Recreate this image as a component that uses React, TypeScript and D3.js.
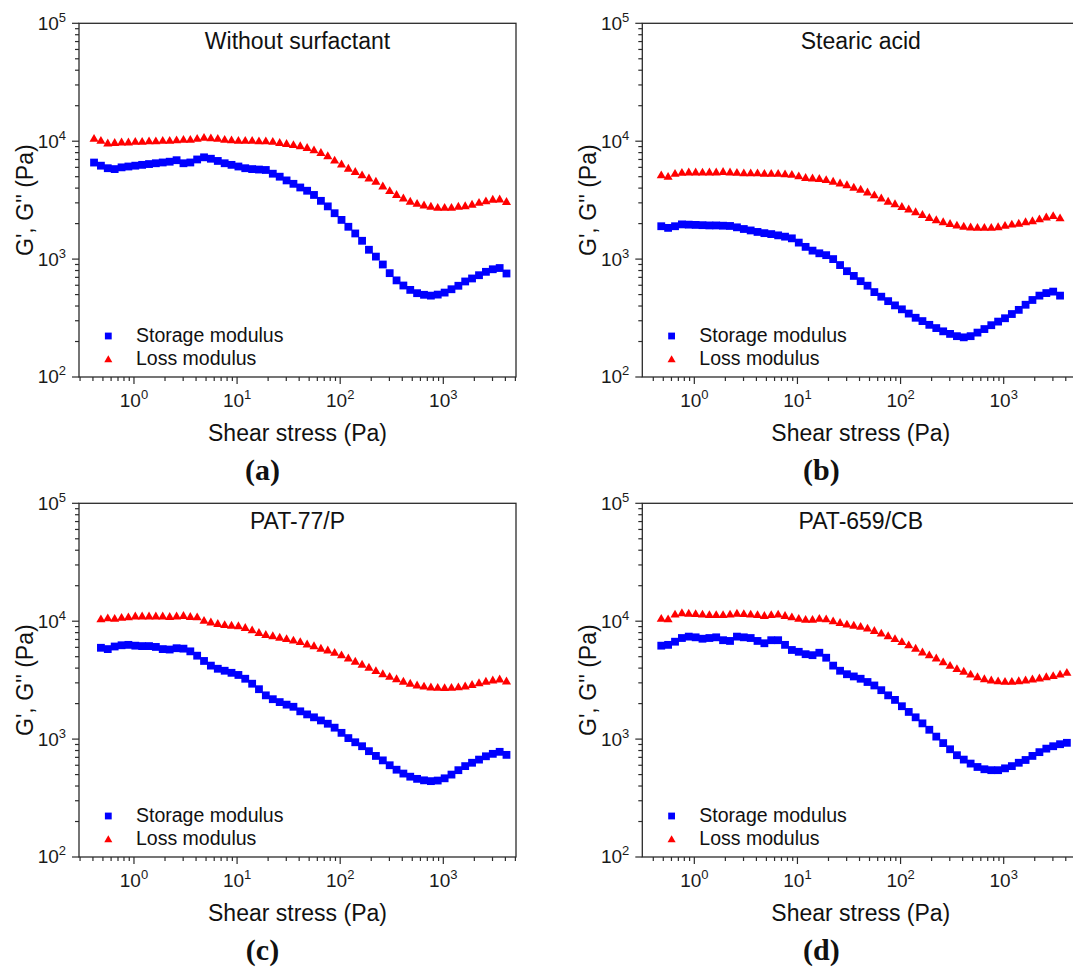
import React, { useEffect, useRef } from "react";
import * as d3 from "d3";

// Applied shear stress (Pa), 15 points per decade
const STRESS = [
  0.41, 0.478, 0.557, 0.65, 0.758, 0.883, 1.03, 1.2, 1.4, 1.63,
  1.9, 2.22, 2.59, 3.02, 3.52, 4.1, 4.78, 5.57, 6.5, 7.58,
  8.83, 10.3, 12, 14, 16.3, 19, 22.2, 25.9, 30.2, 35.2,
  41, 47.8, 55.7, 65, 75.8, 88.3, 103, 120, 140, 163,
  190, 222, 259, 302, 352, 410, 478, 557, 650, 758,
  883, 1030, 1200, 1400, 1630, 1900, 2220, 2590, 3020, 3520, 4100,
];

// (a) Without surfactant — starts at STRESS[0]
const STORAGE_A = [
  6590, 6200, 5900, 5800, 6000, 6100, 6200, 6300, 6400, 6500,
  6600, 6700, 6900, 6500, 6600, 7000, 7300, 7100, 6800, 6500,
  6300, 6100, 5900, 5800, 5750, 5700, 5300, 5000, 4650, 4350,
  4050, 3800, 3500, 3120, 2800, 2450, 2150, 1880, 1650, 1430,
  1200, 1050, 900, 760, 660, 597, 548, 514, 498, 490,
  500, 520, 555, 594, 646, 685, 730, 780, 820, 840, 755,
];
const LOSS_A = [
  10400, 10000, 9500, 9600, 9700, 9700, 9800, 9800, 9900, 9900,
  10000, 10000, 10100, 10200, 10200, 10400, 10600, 10500, 10400, 10200,
  10100, 10000, 10000, 10000, 9900, 9900, 9800, 9600, 9400, 9200,
  9000, 8700, 8300, 7900, 7400, 6800, 6300, 5800, 5450, 5100,
  4800, 4500, 4100, 3750, 3480, 3250, 3050, 2920, 2830, 2760,
  2700, 2700, 2700, 2760, 2790, 2870, 2980, 3070, 3170, 3180, 3030,
];

// (b) Stearic acid — starts at STRESS[1]
const STORAGE_B = [
  1900, 1840, 1900, 1970, 1960, 1950, 1940, 1930, 1930, 1920,
  1910, 1860, 1800, 1750, 1700, 1660, 1630, 1590, 1550, 1500,
  1380, 1270, 1180, 1120, 1080, 1000, 890, 790, 720, 650,
  595, 525, 480, 440, 405, 375, 345, 318, 298, 277,
  260, 244, 232, 222, 217, 222, 238, 255, 275, 295,
  315, 342, 371, 410, 450, 490, 515, 530, 490,
];
const LOSS_B = [
  5100, 4950, 5250, 5350, 5400, 5400, 5380, 5400, 5400, 5450,
  5400, 5350, 5300, 5300, 5300, 5250, 5250, 5250, 5200, 5150,
  5000, 4850, 4800, 4750, 4650, 4500, 4350, 4200, 4000, 3850,
  3650, 3450, 3250, 3050, 2900, 2750, 2620, 2480, 2350, 2220,
  2120, 2040, 1970, 1910, 1870, 1840, 1830, 1830, 1830, 1850,
  1900, 1950, 1980, 2040, 2080, 2160, 2240, 2300, 2200,
];

// (c) PAT-77/P — starts at STRESS[1]
const STORAGE_C = [
  5950, 5800, 6100, 6250, 6300, 6200, 6150, 6150, 6050, 5800,
  5750, 5900, 5850, 5550, 5100, 4600, 4200, 3950, 3800, 3650,
  3500, 3250, 2950, 2650, 2350, 2180, 2060, 1960, 1880, 1720,
  1620, 1530, 1440, 1350, 1250, 1130, 1020, 940, 870, 790,
  720, 660, 600, 550, 510, 480, 460, 447, 440, 445,
  465, 500, 545, 590, 630, 670, 715, 750, 780, 735,
];
const LOSS_C = [
  10300, 10500, 10400, 10600, 10700, 10900, 10900, 10900, 10900, 10900,
  10800, 10900, 11000, 10800, 10700, 10000, 9700, 9400, 9200, 9100,
  9000, 8700, 8300, 7900, 7600, 7400, 7200, 7000, 6800, 6600,
  6300, 6100, 5800, 5600, 5350, 5100, 4800, 4500, 4250, 4000,
  3750, 3530, 3350, 3200, 3050, 2930, 2830, 2770, 2720, 2700,
  2690, 2700, 2730, 2780, 2860, 2960, 3050, 3120, 3180, 3060,
];

// (d) PAT-659/CB — starts at STRESS[1]
const STORAGE_D = [
  6200, 6300, 6700, 7200, 7400, 7300, 7100, 7200, 7300, 6900,
  6800, 7400, 7300, 7200, 6800, 6500, 6900, 6900, 6300, 5700,
  5500, 5250, 5150, 5400, 4900, 4200, 3800, 3550, 3400, 3250,
  3050, 2850, 2600, 2350, 2150, 1900, 1700, 1530, 1360, 1200,
  1050, 925, 820, 730, 670, 620, 580, 555, 545, 545,
  565, 590, 630, 665, 720, 775, 830, 870, 905, 930,
];
const LOSS_D = [
  10400, 10300, 11300, 11600, 11500, 11400, 11300, 11200, 11200, 11200,
  11300, 11500, 11400, 11300, 11200, 11000, 11200, 11300, 11000, 10700,
  10400, 10200, 10200, 10400, 10300, 9900, 9600, 9300, 9100, 8900,
  8600, 8200, 7800, 7400, 7000, 6600, 6200, 5800, 5400, 5100,
  4800, 4450, 4150, 3900, 3700, 3500, 3330, 3200, 3120, 3070,
  3040, 3040, 3080, 3120, 3180, 3250, 3330, 3400, 3500, 3620,
];

const TITLES = ["Without surfactant", "Stearic acid", "PAT-77/P", "PAT-659/CB"];
const TAGS = ["(a)", "(b)", "(c)", "(d)"];
const STARTS = [0, 1, 1, 1];
const STORAGE = [STORAGE_A, STORAGE_B, STORAGE_C, STORAGE_D];
const LOSS = [LOSS_A, LOSS_B, LOSS_C, LOSS_D];
const LEGEND = ["Storage modulus", "Loss modulus"];
const Y_DOMAIN = [1e2, 1e5];

const W = 1073;
const H = 968;
const PW = 437;
const PH = 353.7;
const LAYOUT = [
  { left: 79, top: 23.3, x0: 0.293, x1: 5070, tagX: 183.5 },
  { left: 642.3, top: 23.3, x0: 0.313, x1: 5410, tagX: 179 },
  { left: 79, top: 503.3, x0: 0.293, x1: 5070, tagX: 183.5 },
  { left: 642.3, top: 503.3, x0: 0.313, x1: 5410, tagX: 179 },
];

const SANS = "'Liberation Sans', Arial, sans-serif";
const SERIF = "'Liberation Serif', 'Times New Roman', serif";
const BLUE = "#0000ff";
const RED = "#ff0000";
const AXIS = "#2b2b2b";

const isDecade = (v: number) => Math.abs(Math.log10(v) - Math.round(Math.log10(v))) < 1e-6;

function drawPanel(svg: d3.Selection<SVGSVGElement, unknown, null, undefined>, i: number) {
  const L = LAYOUT[i];
  const x = d3.scaleLog().domain([L.x0, L.x1]).range([0, PW]);
  const y = d3.scaleLog().domain(Y_DOMAIN).range([PH, 0]);
  const g = svg.append("g").attr("transform", `translate(${L.left},${L.top})`);

  // frame
  g.append("rect")
    .attr("x", 0).attr("y", 0).attr("width", PW).attr("height", PH)
    .attr("fill", "none").attr("stroke", AXIS).attr("stroke-width", 1.3);

  // x ticks
  const xt = x.ticks().filter((v) => v >= L.x0 && v <= L.x1);
  g.selectAll("line.xt").data(xt).join("line")
    .attr("x1", (d) => x(d)).attr("x2", (d) => x(d))
    .attr("y1", PH).attr("y2", (d) => PH + (isDecade(d) ? 7 : 4))
    .attr("stroke", AXIS).attr("stroke-width", 1.2);
  const xl = g.selectAll("text.xl").data(xt.filter(isDecade)).join("text")
    .attr("x", (d) => x(d)).attr("y", PH + 29.7)
    .attr("text-anchor", "middle")
    .attr("font-family", SANS).attr("font-size", 19).attr("fill", "#1a1a1a");
  xl.append("tspan").text("10");
  xl.append("tspan").attr("dy", -8).attr("font-size", 13).text((d) => String(Math.round(Math.log10(d))));

  // y ticks
  const yt = y.ticks();
  g.selectAll("line.yt").data(yt).join("line")
    .attr("y1", (d) => y(d)).attr("y2", (d) => y(d))
    .attr("x1", 0).attr("x2", (d) => (isDecade(d) ? -7 : -4))
    .attr("stroke", AXIS).attr("stroke-width", 1.2);
  const yl = g.selectAll("text.yl").data(yt.filter(isDecade)).join("text")
    .attr("x", -13).attr("y", (d) => y(d) + 6.5)
    .attr("text-anchor", "end")
    .attr("font-family", SANS).attr("font-size", 19).attr("fill", "#1a1a1a");
  yl.append("tspan").text("10");
  yl.append("tspan").attr("dy", -8).attr("font-size", 13).text((d) => String(Math.round(Math.log10(d))));

  // axis titles
  g.append("text")
    .attr("x", PW / 2).attr("y", PH + 64)
    .attr("text-anchor", "middle")
    .attr("font-family", SANS).attr("font-size", 23).attr("fill", "#111")
    .text("Shear stress (Pa)");
  g.append("text")
    .attr("transform", `translate(-46,${PH / 2}) rotate(-90)`)
    .attr("text-anchor", "middle")
    .attr("font-family", SANS).attr("font-size", 23).attr("fill", "#111")
    .text("G', G'' (Pa)");

  // sample title
  g.append("text")
    .attr("x", PW / 2).attr("y", 25.7)
    .attr("text-anchor", "middle")
    .attr("font-family", SANS).attr("font-size", 23).attr("fill", "#111")
    .text(TITLES[i]);

  // data
  const start = STARTS[i];
  const storagePts = STORAGE[i].map((v, k) => [STRESS[start + k], v] as [number, number]);
  const lossPts = LOSS[i].map((v, k) => [STRESS[start + k], v] as [number, number]);
  const sq = 7.8;
  g.append("g").selectAll("rect").data(storagePts).join("rect")
    .attr("x", (d) => x(d[0]) - sq / 2).attr("y", (d) => y(d[1]) - sq / 2)
    .attr("width", sq).attr("height", sq).attr("fill", BLUE);
  const tri = d3.symbol().type(d3.symbolTriangle).size(36);
  g.append("g").selectAll("path").data(lossPts).join("path")
    .attr("transform", (d) => `translate(${x(d[0])},${y(d[1])})`)
    .attr("d", tri()).attr("fill", RED);

  // legend
  const lx = 29.3;
  g.append("rect").attr("x", lx - 3.4).attr("y", 312.7 - 3.4).attr("width", 6.8).attr("height", 6.8).attr("fill", BLUE);
  g.append("path").attr("transform", `translate(${lx},${336.7})`)
    .attr("d", d3.symbol().type(d3.symbolTriangle).size(28)()).attr("fill", RED);
  g.append("text").attr("x", 57).attr("y", 318.6)
    .attr("font-family", SANS).attr("font-size", 19.5).attr("fill", "#111").text(LEGEND[0]);
  g.append("text").attr("x", 57).attr("y", 342)
    .attr("font-family", SANS).attr("font-size", 19.5).attr("fill", "#111").text(LEGEND[1]);

  // panel letter
  g.append("text")
    .attr("x", L.tagX).attr("y", PH + 103)
    .attr("text-anchor", "middle")
    .attr("font-family", SERIF).attr("font-size", 30).attr("font-weight", "bold").attr("fill", "#111")
    .text(TAGS[i]);
}

export default function App() {
  const ref = useRef<SVGSVGElement>(null);
  useEffect(() => {
    const svg = d3.select(ref.current!);
    svg.selectAll("*").remove();
    for (let i = 0; i < 4; i++) drawPanel(svg, i);
  }, []);
  return (
    <svg
      ref={ref}
      width={W}
      height={H}
      viewBox={`0 0 ${W} ${H}`}
      style={{ position: "absolute", left: 0, top: 0, background: "#fff" }}
    />
  );
}
